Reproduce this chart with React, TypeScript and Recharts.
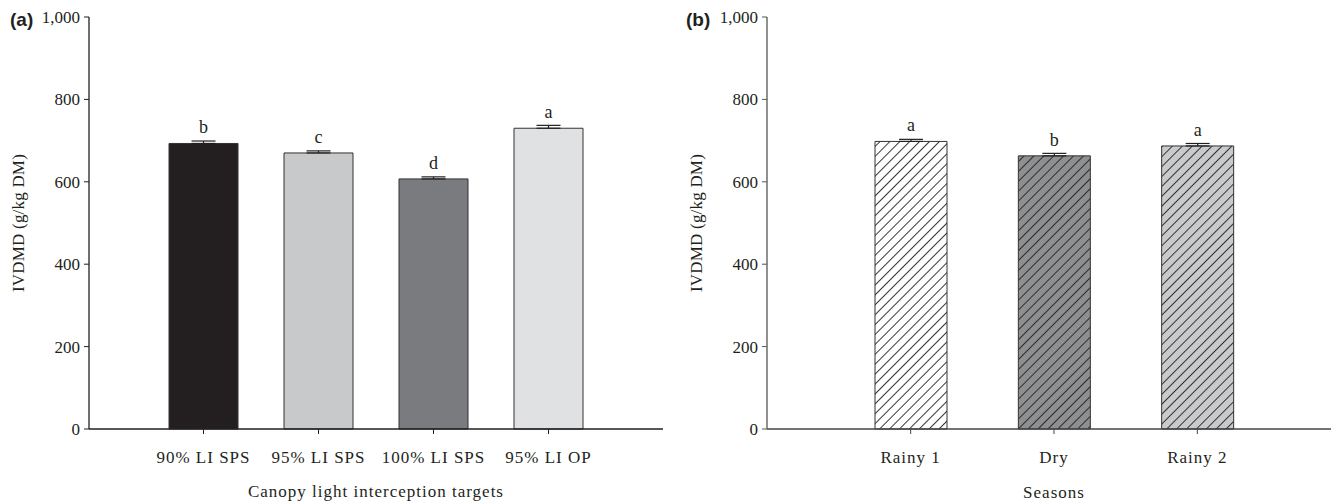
import { BarChart, Bar, XAxis, YAxis, Cell, ErrorBar, LabelList } from "recharts";

// (a) canopy light interception targets
const lightTargets = ["90% LI SPS", "95% LI SPS", "100% LI SPS", "95% LI OP"];
const lightIvdmd = [693, 670, 607, 730];
const lightSe = [6, 5, 5, 7];
const lightLetters = ["b", "c", "d", "a"];

// (b) seasons
const seasons = ["Rainy 1", "Dry", "Rainy 2"];
const seasonIvdmd = [698, 663, 687];
const seasonSe = [5, 6, 6];
const seasonLetters = ["a", "b", "a"];

const yTicks = [0, 200, 400, 600, 800, 1000];

const lightFills = ["#231f20", "#c8c9cb", "#7a7b7f", "#e0e1e3"];
const seasonFills = ["#ffffff", "#8e8f91", "#c9cacc"];

const SERIF = '"Liberation Serif", "Times New Roman", serif';
const SANS = '"Liberation Sans", Arial, sans-serif';
const INK = "#231f20";

function rows(names: string[], vals: number[], se: number[], letters: string[]) {
  return names.map((name, i) => ({
    name,
    value: vals[i],
    err: [0, se[i]],
    letter: letters[i],
  }));
}

const lightData = rows(lightTargets, lightIvdmd, lightSe, lightLetters);
const seasonData = rows(seasons, seasonIvdmd, seasonSe, seasonLetters);

const yTickStyle = { fontFamily: SERIF, fontSize: 17, fill: INK };
const xTickStyle = { fontFamily: SERIF, fontSize: 17, fill: INK, letterSpacing: 1 };

const fmt = (v: number) => v.toLocaleString("en-US");

export default function App() {
  return (
    <div
      style={{
        position: "absolute",
        left: 0,
        top: 0,
        width: 1331,
        height: 502,
        overflow: "hidden",
        background: "#fff",
      }}
    >
      {/* panel (a) */}
      <div style={{ position: "absolute", left: 0, top: 0 }}>
        <BarChart
          width={680}
          height={502}
          data={lightData}
          margin={{ top: 17, right: 17, bottom: 33, left: 29 }}
        >
          <XAxis
            dataKey="name"
            height={40}
            tickSize={5}
            tickMargin={17}
            padding={{ left: 57, right: 57 }}
            tick={xTickStyle}
            axisLine={{ stroke: INK, strokeWidth: 1.3 }}
            tickLine={{ stroke: INK }}
          />
          <XAxis
            xAxisId="top"
            orientation="top"
            dataKey="name"
            height={0}
            tick={false}
            tickLine={false}
            axisLine={{ stroke: INK, strokeWidth: 1.3 }}
          />
          <YAxis
            width={60}
            domain={[0, 1000]}
            ticks={yTicks}
            tickSize={5}
            tickMargin={4}
            tickFormatter={fmt}
            tick={yTickStyle}
            axisLine={{ stroke: INK, strokeWidth: 1.3 }}
            tickLine={{ stroke: INK }}
          />
          <YAxis
            yAxisId="r"
            orientation="right"
            width={0}
            domain={[0, 1000]}
            tick={false}
            tickLine={false}
            axisLine={{ stroke: INK, strokeWidth: 1.3 }}
          />
          <Bar
            dataKey="value"
            barSize={69}
            stroke="#333333"
            strokeWidth={1}
            isAnimationActive={false}
          >
            {lightData.map((d, i) => (
              <Cell key={d.name} fill={lightFills[i]} />
            ))}
            <ErrorBar dataKey="err" width={12} stroke={INK} strokeWidth={1.2} direction="y" />
            <LabelList
              dataKey="letter"
              position="top"
              offset={10}
              fontFamily={SERIF}
              fontSize={18}
              fill={INK}
            />
          </Bar>
          <text x={10} y={26} fontFamily={SANS} fontWeight="bold" fontSize={19} fill={INK}>
            (a)
          </text>
          <text
            x={24}
            y={223}
            transform="rotate(-90, 24, 223)"
            textAnchor="middle"
            fontFamily={SERIF}
            fontSize={17}
            letterSpacing={0.2}
            fill={INK}
          >
            IVDMD (g/kg DM)
          </text>
          <text
            x={376}
            y={497}
            textAnchor="middle"
            fontFamily={SERIF}
            fontSize={17}
            letterSpacing={1}
            fill={INK}
          >
            Canopy light interception targets
          </text>
        </BarChart>
      </div>

      {/* panel (b) */}
      <div style={{ position: "absolute", left: 680, top: 0 }}>
        <BarChart
          width={680}
          height={502}
          data={seasonData}
          margin={{ top: 17, right: 19, bottom: 33, left: 27 }}
        >
          <defs>
            {seasonFills.map((c, i) => (
              <pattern
                key={c}
                id={`hatch-${i}`}
                patternUnits="userSpaceOnUse"
                width={7}
                height={7}
                patternTransform="rotate(45)"
              >
                <rect width={7} height={7} fill={c} />
                <line x1={3.5} y1={0} x2={3.5} y2={7} stroke={INK} strokeWidth={0.9} />
              </pattern>
            ))}
          </defs>
          <XAxis
            dataKey="name"
            height={40}
            tickSize={5}
            tickMargin={17}
            padding={{ left: 72, right: 72 }}
            tick={xTickStyle}
            axisLine={{ stroke: "#444", strokeWidth: 1.3 }}
            tickLine={{ stroke: "#444" }}
          />
          <XAxis
            xAxisId="top"
            orientation="top"
            dataKey="name"
            height={0}
            tick={false}
            tickLine={false}
            axisLine={{ stroke: "#555", strokeWidth: 1.5 }}
          />
          <YAxis
            width={60}
            domain={[0, 1000]}
            ticks={yTicks}
            tickSize={5}
            tickMargin={4}
            tickFormatter={fmt}
            tick={yTickStyle}
            axisLine={{ stroke: "#555", strokeWidth: 1.3 }}
            tickLine={{ stroke: "#555" }}
          />
          <Bar
            dataKey="value"
            barSize={72}
            stroke="#333333"
            strokeWidth={1}
            isAnimationActive={false}
          >
            {seasonData.map((d, i) => (
              <Cell key={d.name} fill={`url(#hatch-${i})`} />
            ))}
            <ErrorBar dataKey="err" width={12} stroke={INK} strokeWidth={1.2} direction="y" />
            <LabelList
              dataKey="letter"
              position="top"
              offset={10}
              fontFamily={SERIF}
              fontSize={18}
              fill={INK}
            />
          </Bar>
          <text x={6} y={26} fontFamily={SANS} fontWeight="bold" fontSize={19} fill={INK}>
            (b)
          </text>
          <text
            x={22}
            y={223}
            transform="rotate(-90, 22, 223)"
            textAnchor="middle"
            fontFamily={SERIF}
            fontSize={17}
            letterSpacing={0.2}
            fill={INK}
          >
            IVDMD (g/kg DM)
          </text>
          <text
            x={374}
            y={498}
            textAnchor="middle"
            fontFamily={SERIF}
            fontSize={17}
            letterSpacing={1}
            fill={INK}
          >
            Seasons
          </text>
        </BarChart>
      </div>
    </div>
  );
}
